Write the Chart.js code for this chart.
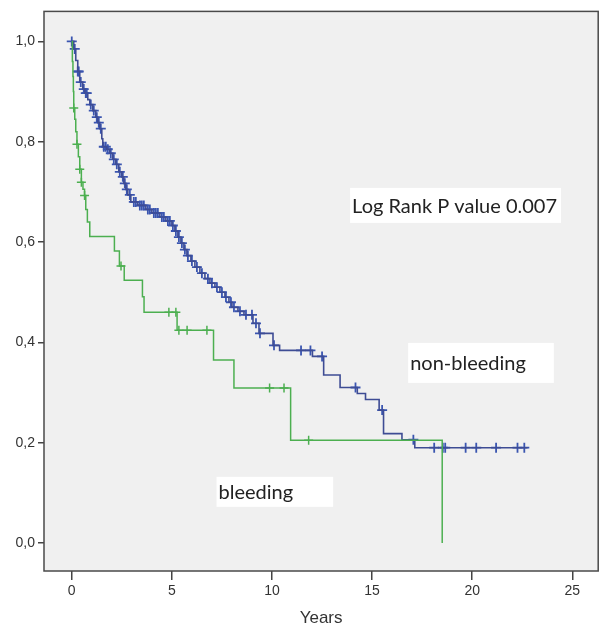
<!DOCTYPE html>
<html>
<head>
<meta charset="utf-8">
<script src="https://cdn.jsdelivr.net/npm/chart.js@4"></script>
<style>
  html, body { margin: 0; padding: 0; background: #fff; }
  #wrap { width: 605px; height: 629px; }
</style>
</head>
<body>
<div id="wrap"><canvas id="km" width="605" height="629"></canvas></div>
<script>
// Kaplan-Meier survival, bleeding vs non-bleeding
const xTicks = [0, 5, 10, 15, 20, 25];
const yTicks = [0, 0.2, 0.4, 0.6, 0.8, 1.0];

// non-bleeding: step times (years) and survival after each step
const nonBleedT = [0, 0.1, 0.2, 0.3, 0.4, 0.55, 0.65, 0.8, 0.9, 1.05, 1.2, 1.3, 1.4, 1.5, 1.55, 1.75, 1.9, 2.05, 2.2, 2.35,
  2.5, 2.6, 2.7, 2.8, 2.95, 3.3, 3.7, 4.0, 4.4, 4.7, 5.0, 5.15, 5.3, 5.45, 5.6, 5.75, 5.95, 6.15, 6.4, 6.65,
  6.9, 7.15, 7.4, 7.65, 7.85, 8.0, 8.3, 8.6, 9.05, 9.35, 10.05, 10.38, 12.02, 12.58, 13.4, 14.26, 14.67, 15.35, 15.57, 16.49,
  17.13, 22.76];
const nonBleedS = [1.0, 0.985, 0.962, 0.94, 0.919, 0.905, 0.897, 0.884, 0.874, 0.862, 0.849, 0.838, 0.826, 0.806, 0.79, 0.785, 0.777, 0.765, 0.755, 0.74,
  0.73, 0.717, 0.705, 0.694, 0.68, 0.673, 0.665, 0.658, 0.65, 0.642, 0.633, 0.622, 0.61, 0.598, 0.585, 0.573, 0.562, 0.55, 0.538, 0.527,
  0.518, 0.51, 0.5, 0.49, 0.48, 0.47, 0.462, 0.455, 0.438, 0.418, 0.394, 0.384, 0.372, 0.335, 0.31, 0.298, 0.286, 0.265, 0.218, 0.206,
  0.19, 0.19];
// non-bleeding censored times
const nonBleedCens = [0, 0.15, 0.3, 0.35, 0.45, 0.6, 0.7, 0.75, 0.95, 1.1, 1.25, 1.35, 1.45, 1.6, 1.7, 1.8, 1.95, 2.1, 2.25, 2.4,
  2.55, 2.65, 2.75, 2.9, 3.1, 3.2, 3.4, 3.5, 3.6, 3.8, 3.9, 4.1, 4.2, 4.3, 4.5, 4.6, 4.8, 4.9, 5.05, 5.2,
  5.35, 5.5, 5.65, 5.8, 6.0, 6.25, 6.5, 6.8, 7.0, 7.25, 7.5, 7.7, 7.95, 8.1, 8.4, 8.7, 9.0, 9.2, 9.4, 10.1,
  11.45, 11.92, 12.5, 14.17, 15.5, 17.06, 18.1, 18.53, 18.65, 19.67, 20.2, 21.19, 22.26, 22.6];

// bleeding
const bleedT = [0, 0.03, 0.06, 0.08, 0.1, 0.15, 0.2, 0.26, 0.33, 0.4, 0.48, 0.56, 0.64, 0.7, 0.78, 0.9,
  2.13, 2.38, 2.62, 3.53, 3.61, 5.26, 7.08, 8.1, 10.93, 18.5];
const bleedS = [1.0, 0.96, 0.93, 0.9, 0.867, 0.845, 0.82, 0.795, 0.77, 0.745, 0.719, 0.705, 0.693, 0.665, 0.64, 0.611,
  0.582, 0.552, 0.524, 0.491, 0.46, 0.424, 0.365, 0.309, 0.205, 0.0];
const bleedCens = [0.1, 0.26, 0.4, 0.48, 0.64, 2.46, 4.85, 5.2, 5.35, 5.76, 6.75, 9.88, 10.6, 11.83];

const blueLine = '#3e4c94', blueMark = '#3a55b0', green = '#4caf50';

function survAt(ts, ss, t) {
  let s = ss[0];
  for (let i = 0; i < ts.length; i++) { if (ts[i] <= t) s = ss[i]; }
  return s;
}
const steps = (ts, ss) => ts.map((t, i) => ({ x: t, y: ss[i] }));
const marks = (cs, ts, ss) => cs.map(t => ({ x: t, y: survAt(ts, ss, t) }));

const notes = [
  { text: 'Log Rank P value 0.007', t: 14.0, s: 0.673, padR: 4, halfH: 17.5 },
  { text: 'non-bleeding', t: 16.9, s: 0.359, padR: 28, halfH: 20 },
  { text: 'bleeding', t: 7.33, s: 0.102, padR: 40, halfH: 15 }
];

const plotFrame = {
  id: 'plotFrame',
  beforeDatasetsDraw(chart) {
    const { ctx, chartArea: a } = chart;
    ctx.save();
    ctx.fillStyle = '#f0f0f0';
    ctx.fillRect(a.left, a.top, a.right - a.left, a.bottom - a.top);
    ctx.restore();
  },
  afterDatasetsDraw(chart) {
    const { ctx, chartArea: a, scales } = chart;
    ctx.save();
    ctx.font = '20px Lato';
    ctx.textBaseline = 'middle';
    notes.forEach(n => {
      const x = scales.x.getPixelForValue(n.t);
      const y = scales.y.getPixelForValue(n.s);
      const w = ctx.measureText(n.text).width;
      ctx.fillStyle = '#ffffff';
      ctx.fillRect(x - 2, y - n.halfH, w + 2 + n.padR, n.halfH * 2);
      ctx.fillStyle = '#222';
      ctx.fillText(n.text, x, y + 1);
    });
    ctx.strokeStyle = '#4a4a4a';
    ctx.lineWidth = 1.5;
    ctx.strokeRect(a.left, a.top, a.right - a.left, a.bottom - a.top);
    ctx.restore();
  }
};

new Chart(document.getElementById('km'), {
  type: 'line',
  data: {
    datasets: [
      { data: steps(bleedT, bleedS), stepped: 'before', borderColor: green, borderWidth: 1.5, pointRadius: 0 },
      { data: steps(nonBleedT, nonBleedS), stepped: 'before', borderColor: blueLine, borderWidth: 1.6, pointRadius: 0 },
      { data: marks(bleedCens, bleedT, bleedS), showLine: false, pointStyle: 'cross', pointRadius: 4.5,
        borderColor: green, borderWidth: 1.5 },
      { data: marks(nonBleedCens, nonBleedT, nonBleedS), showLine: false, pointStyle: 'cross', pointRadius: 5,
        borderColor: blueMark, borderWidth: 1.8 }
    ]
  },
  options: {
    responsive: false,
    animation: false,
    layout: { padding: { top: 11, right: 2, left: 0, bottom: 0 } },
    plugins: { legend: { display: false }, tooltip: { enabled: false } },
    scales: {
      x: {
        type: 'linear', min: -1.386, max: 26.29,
        afterBuildTicks: s => { s.ticks = xTicks.map(v => ({ value: v })); },
        afterFit: s => { s.height = 58; },
        grid: { drawOnChartArea: false, drawTicks: true, tickLength: 9, color: '#444', lineWidth: 1.5 },
        border: { display: false },
        ticks: { color: '#333', font: { family: 'Liberation Sans', size: 14 }, padding: 3, maxRotation: 0 },
        title: { display: true, text: 'Years', color: '#333', font: { family: 'Liberation Sans', size: 17 }, padding: { top: 4, bottom: 0 } }
      },
      y: {
        type: 'linear', min: -0.0558, max: 1.0598,
        afterBuildTicks: s => { s.ticks = yTicks.map(v => ({ value: v })); },
        afterFit: s => { s.width = 44; },
        grid: { drawOnChartArea: false, drawTicks: true, tickLength: 6, color: '#444', lineWidth: 1.5 },
        border: { display: false },
        ticks: { color: '#333', font: { family: 'Liberation Sans', size: 14 }, padding: 3,
          callback: v => v.toFixed(1).replace('.', ',') }
      }
    }
  },
  plugins: [plotFrame]
});
</script>
</body>
</html>
